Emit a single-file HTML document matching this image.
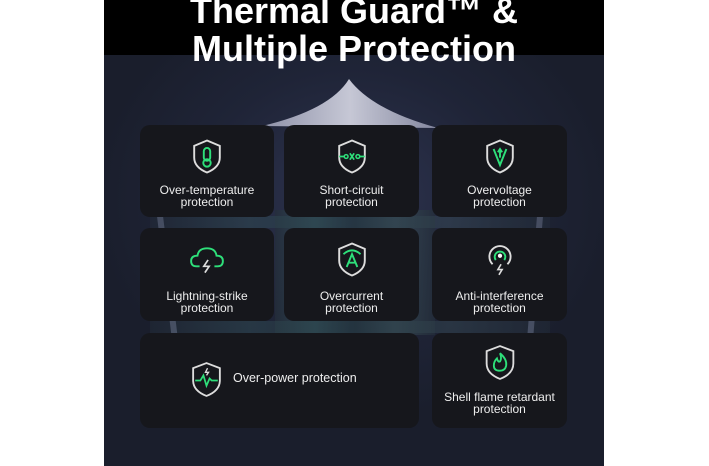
<!DOCTYPE html>
<html><head><meta charset="utf-8"><style>
body{margin:0;width:709px;height:466px;background:#fff;position:relative;overflow:hidden;font-family:"Liberation Sans",sans-serif}
.panel{position:absolute;left:104px;top:0;width:500px;height:466px;background:radial-gradient(ellipse 260px 220px at 250px 200px,#2e3450 0%,#1f2437 60%,#1a1e2c 100%)}
.top{position:absolute;left:104px;top:0;width:500px;height:55px;background:#000}
.title{position:absolute;left:104px;width:500px;text-align:center;color:#fff;font-weight:bold;font-size:36px;line-height:38px;top:-8px;letter-spacing:0px}
.card{position:absolute;background:#16171c;border-radius:10px;color:#eee;font-size:12px;line-height:12px;text-align:center}
.card svg{position:absolute;left:50%;transform:translateX(-50%)}
.lbl{position:absolute;left:0;right:0}
.board{position:absolute;background:linear-gradient(90deg,#242e3a,#35565c,#243640,#3a5058,#242e3a);}
</style></head><body>
<div class="panel"></div>
<svg style="position:absolute;left:0;top:0" width="709" height="466">
<defs><linearGradient id="t" x1="0" y1="0" x2="1" y2="0"><stop offset="0" stop-color="#9a9db4"/><stop offset=".5" stop-color="#d8d9e6"/><stop offset="1" stop-color="#8d90a8"/></linearGradient></defs>
<path d="M349 79 Q330 110 262 126 L438 128 Q372 110 349 79Z" fill="url(#t)" opacity=".9"/>
<path d="M160 216 L175 340 M540 216 L530 340" stroke="#5a5f78" stroke-width="6"/>
</svg>
<div class="board" style="left:275px;top:210px;width:160px;height:125px;opacity:.7"></div>
<div class="board" style="left:150px;top:216px;width:400px;height:12px;opacity:.4"></div>
<div class="board" style="left:150px;top:321px;width:400px;height:12px;opacity:.4"></div>
<div class="top"></div>
<div class="title">Thermal Guard™ &amp;<br>Multiple Protection</div>

<div class="card" style="left:140px;top:125px;width:134px;height:92px">
<svg style="top:13px" width="32" height="37" viewBox="0 0 30 34"><path d="M15 2 L27 7 V18 Q27 27 15 32 Q3 27 3 18 V7Z" fill="none" stroke="#ddd" stroke-width="1.8"/><rect x="12" y="9" width="6" height="12" rx="3" fill="none" stroke="#2ee07a" stroke-width="1.8"/><circle cx="15" cy="23" r="3.5" fill="none" stroke="#2ee07a" stroke-width="1.8"/></svg>
<div class="lbl" style="top:59px">Over-temperature<br>protection</div></div>
<div class="card" style="left:284px;top:125px;width:135px;height:92px">
<svg style="top:13px" width="32" height="37" viewBox="0 0 30 34"><path d="M15 2 L27 7 V18 Q27 27 15 32 Q3 27 3 18 V7Z" fill="none" stroke="#ddd" stroke-width="1.8"/><path d="M3 17 H8 M22 17 H27 M13 14 L17 20 M17 14 L13 20" stroke="#2ee07a" stroke-width="1.6"/><circle cx="9.5" cy="17" r="1.8" fill="none" stroke="#2ee07a" stroke-width="1.4"/><circle cx="20.5" cy="17" r="1.8" fill="none" stroke="#2ee07a" stroke-width="1.4"/></svg>
<div class="lbl" style="top:59px">Short-circuit<br>protection</div></div>
<div class="card" style="left:432px;top:125px;width:135px;height:92px">
<svg style="top:13px" width="32" height="37" viewBox="0 0 30 34"><path d="M15 2 L27 7 V18 Q27 27 15 32 Q3 27 3 18 V7Z" fill="none" stroke="#ddd" stroke-width="1.8"/><path d="M9 10 L15 25 L21 10 M15 18 V11 M13 13 L15 10 L17 13" fill="none" stroke="#2ee07a" stroke-width="1.8"/></svg>
<div class="lbl" style="top:59px">Overvoltage<br>protection</div></div>

<div class="card" style="left:140px;top:228px;width:134px;height:93px">
<svg style="top:17px" width="36" height="32" viewBox="0 0 34 30"><path d="M10 20 H7 Q2 20 2 15 Q2 10 8 10 Q9 3 17 3 Q25 3 26 10 Q32 10 32 15 Q32 20 27 20 H24" fill="none" stroke="#2ee07a" stroke-width="1.8"/><path d="M18 14 L14 20 H19 L15 26" fill="none" stroke="#ddd" stroke-width="1.6"/></svg>
<div class="lbl" style="top:62px">Lightning-strike<br>protection</div></div>
<div class="card" style="left:284px;top:228px;width:135px;height:93px">
<svg style="top:13px" width="32" height="37" viewBox="0 0 30 34"><path d="M15 2 L27 7 V18 Q27 27 15 32 Q3 27 3 18 V7Z" fill="none" stroke="#ddd" stroke-width="1.8"/><path d="M7 12 Q15 5 23 12 M10 24 L15 12 L20 24 M12 20 H18" fill="none" stroke="#2ee07a" stroke-width="1.8"/></svg>
<div class="lbl" style="top:62px">Overcurrent<br>protection</div></div>
<div class="card" style="left:432px;top:228px;width:135px;height:93px">
<svg style="top:14px" width="32" height="36" viewBox="0 0 30 34"><path d="M8 21 A10 10 0 1 1 22 21" fill="none" stroke="#ddd" stroke-width="1.8"/><path d="M11 17 A5 5 0 1 1 19 17" fill="none" stroke="#2ee07a" stroke-width="1.8"/><circle cx="15" cy="13" r="2" fill="#fff"/><path d="M16 21 L13 26 H17 L14 31" fill="none" stroke="#ddd" stroke-width="1.5"/></svg>
<div class="lbl" style="top:62px">Anti-interference<br>protection</div></div>

<div class="card" style="left:140px;top:333px;width:279px;height:95px">
<svg style="left:51px;transform:none;top:28px" width="31" height="37" viewBox="0 0 30 36"><path d="M15 2 L28 7 V19 Q28 29 15 34 Q2 29 2 19 V7Z" fill="none" stroke="#ddd" stroke-width="1.8"/><path d="M4 19 H9 L12 14 L15 24 L18 17 L20 19 H26" fill="none" stroke="#2ee07a" stroke-width="1.7"/><path d="M16 7 L14 11 H17 L15 14" fill="none" stroke="#ddd" stroke-width="1.3"/></svg>
<div class="lbl" style="top:39px;left:93px;right:auto;font-size:12.5px">Over-power protection</div></div>
<div class="card" style="left:432px;top:333px;width:135px;height:95px">
<svg style="top:11px" width="31" height="37" viewBox="0 0 30 36"><path d="M15 2 L28 7 V19 Q28 29 15 34 Q2 29 2 19 V7Z" fill="none" stroke="#ddd" stroke-width="1.8"/><path d="M15 9 Q22 15 21 21 Q20 26 15 26 Q9 26 9 21 Q9 17 12 14 Q13 18 15 17 Q17 14 15 9Z" fill="none" stroke="#2ee07a" stroke-width="1.8"/></svg>
<div class="lbl" style="top:58px">Shell flame retardant<br>protection</div></div>
</body></html>
